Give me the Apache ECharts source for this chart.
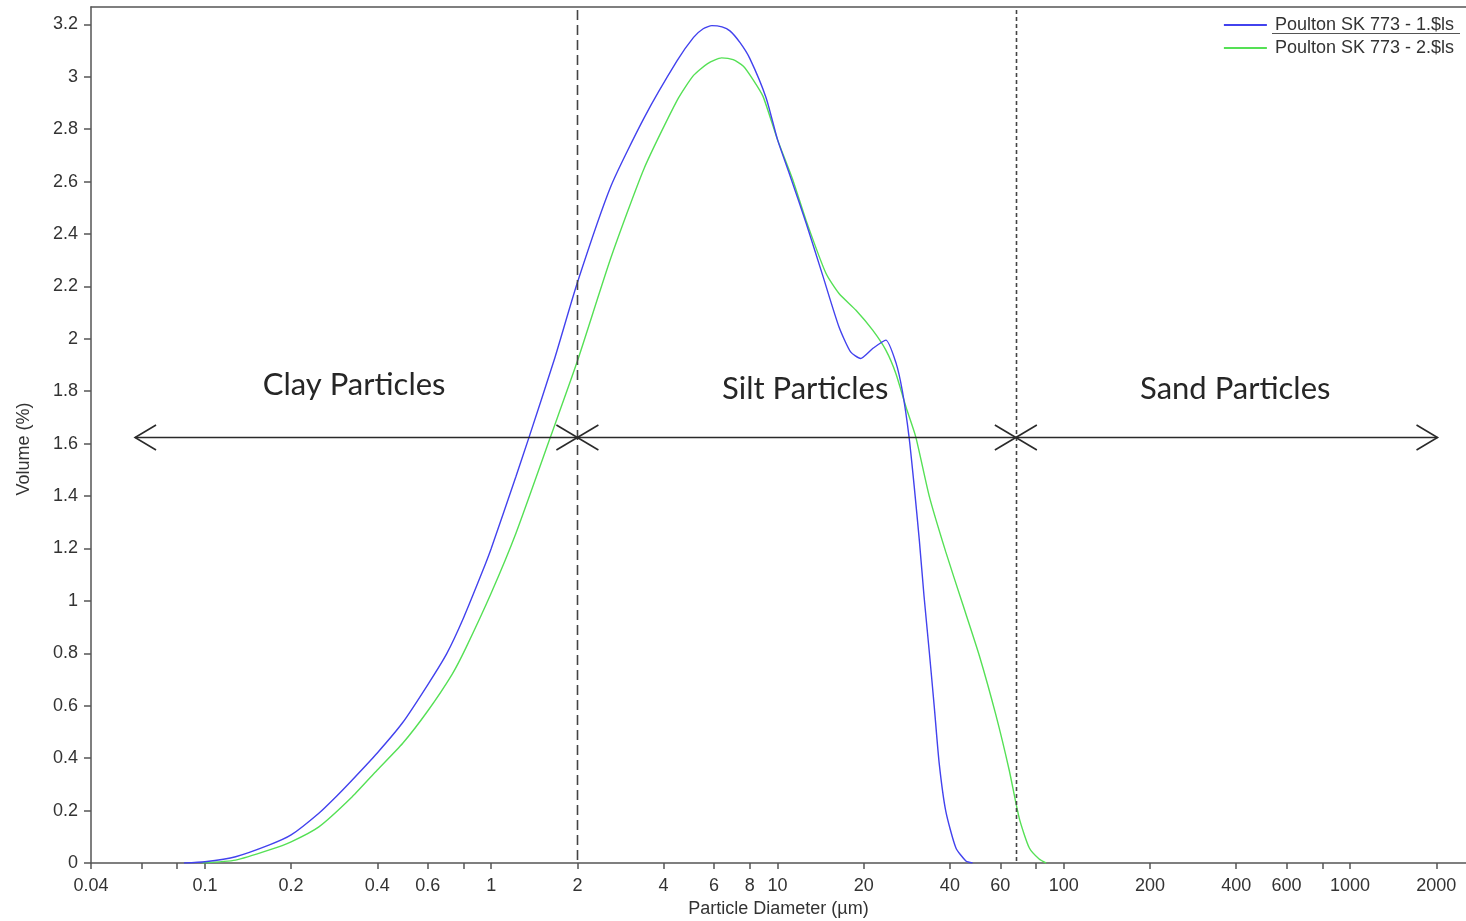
<!DOCTYPE html>
<html>
<head>
<meta charset="utf-8">
<script src="https://cdn.jsdelivr.net/npm/echarts@6/dist/echarts.min.js"></script>
<style>
html,body{margin:0;padding:0;background:#fff;}
#chart{width:1466px;height:921px;}
</style>
</head>
<body>
<div id="chart"></div>
<script>
// ---------- data ----------
const seriesNames = ['Poulton SK 773 - 1.$ls', 'Poulton SK 773 - 2.$ls'];

const sizes1 = [0.0845,0.1,0.128,0.168,0.2,0.25,0.287,0.327,0.4,0.49,0.6,0.7,0.8,0.93,1.0,1.22,1.356,1.66,2.0,2.62,3.42,4.46,5.09,5.5,5.9,6.4,6.82,7.4,8.0,9.12,10.0,11.0,12.6,14.4,16.4,18.0,19.5,21.5,23.9,25.9,27.3,28.8,30.0,31.3,32.5,33.9,35.3,36.7,38.7,42.0,45.5,48.0];
const vol1   = [0,0.005,0.024,0.069,0.107,0.19,0.253,0.317,0.42,0.535,0.68,0.80,0.935,1.11,1.20,1.475,1.625,1.92,2.215,2.583,2.843,3.061,3.15,3.183,3.195,3.19,3.175,3.13,3.07,2.92,2.76,2.63,2.44,2.24,2.045,1.95,1.925,1.963,1.995,1.91,1.80,1.626,1.441,1.229,1.017,0.805,0.593,0.381,0.198,0.057,0.008,0];

const sizes2 = [0.098,0.128,0.168,0.2,0.25,0.327,0.4,0.49,0.6,0.73,0.815,1.0,1.22,1.61,2.0,2.62,3.42,4.46,5.09,5.7,6.38,7.0,7.6,8.2,8.9,10.0,11.28,12.6,14.76,16.4,18.8,21.5,23.9,25.9,28.1,30.4,33.9,38.7,44.3,50.7,57.9,64.5,69.9,75.8,82.0,86.7];
const vol2   = [0,0.011,0.05,0.081,0.138,0.253,0.355,0.456,0.58,0.72,0.82,1.03,1.258,1.625,1.915,2.31,2.65,2.91,3.005,3.05,3.072,3.065,3.04,2.99,2.925,2.76,2.61,2.45,2.25,2.173,2.109,2.033,1.957,1.868,1.74,1.626,1.399,1.187,0.989,0.791,0.565,0.353,0.17,0.057,0.015,0];

const xTickLabels = [0.04,0.1,0.2,0.4,0.6,1,2,4,6,8,10,20,40,60,100,200,400,600,1000,2000];
const xTicks = [0.04,0.06,0.08,0.1,0.2,0.4,0.6,0.8,1,2,4,6,8,10,20,40,60,80,100,200,400,600,800,1000,2000];
const yTicks = [0,0.2,0.4,0.6,0.8,1,1.2,1.4,1.6,1.8,2,2.2,2.4,2.6,2.8,3,3.2];

const classNames = ['Clay Particles', 'Silt Particles', 'Sand Particles'];
const classBounds = [2, 68];          // µm: clay/silt, silt/sand
const arrowRange = [0.057, 2020];     // µm extent of the classification arrow
const arrowLevel = 1.625;             // volume % at which the arrow is drawn

// ---------- chart ----------
const X_MIN = 0.04, X_MAX = 2540, Y_MIN = 0, Y_MAX = 3.266;
const labelFont = 'Liberation Sans, Arial, sans-serif';
const fmt = v => String(+(+v).toPrecision(6));

const labelAnchors = [[0.332, 1.825], [12.5, 1.81], [397, 1.81]];

function renderAnnot(params, api) {
  const cs = params.coordSys;
  const top = cs.y, bottom = cs.y + cs.height;
  const yA = Math.round(api.coord([1, arrowLevel])[1]) + 0.5;
  const xL = api.coord([arrowRange[0], arrowLevel])[0];
  const xR = api.coord([arrowRange[1], arrowLevel])[0];
  const dark = '#2a2a2a';
  const ch = [];
  classBounds.forEach((b, i) => {
    const x = Math.round(api.coord([b, 1])[0]) + 0.5;
    ch.push({type: 'line', shape: {x1: x, y1: top + 3, x2: x, y2: bottom},
      style: {stroke: '#444', lineWidth: 1.6, lineDash: i === 0 ? [10, 5] : [4, 3]}});
  });
  ch.push({type: 'line', shape: {x1: xL, y1: yA, x2: xR, y2: yA}, style: {stroke: dark, lineWidth: 1.6}});
  ch.push({type: 'polyline', shape: {points: [[xL + 21, yA - 12.5], [xL, yA], [xL + 21, yA + 12.5]]},
    style: {stroke: dark, lineWidth: 1.6, fill: null}});
  ch.push({type: 'polyline', shape: {points: [[xR - 21, yA - 12.5], [xR, yA], [xR - 21, yA + 12.5]]},
    style: {stroke: dark, lineWidth: 1.6, fill: null}});
  classBounds.forEach(b => {
    const x = api.coord([b, arrowLevel])[0];
    ch.push({type: 'line', shape: {x1: x - 21, y1: yA - 12.5, x2: x + 21, y2: yA + 12.5}, style: {stroke: dark, lineWidth: 1.6}});
    ch.push({type: 'line', shape: {x1: x - 21, y1: yA + 12.5, x2: x + 21, y2: yA - 12.5}, style: {stroke: dark, lineWidth: 1.6}});
  });
  classNames.forEach((t, i) => {
    const p = api.coord(labelAnchors[i]);
    ch.push({type: 'text', style: {text: t, x: p[0], y: p[1], fill: '#262626',
      font: '31px Lato, "Open Sans", sans-serif', align: 'center', verticalAlign: 'middle'}});
  });
  return {type: 'group', children: ch};
}

const chart = echarts.init(document.getElementById('chart'), null, {renderer: 'canvas'});
chart.setOption({
  animation: false,
  backgroundColor: '#fff',
  grid: {left: 91, top: 7, right: 0, bottom: 58, containLabel: false, outerBoundsMode: 'none'},
  legend: {
    data: seriesNames, orient: 'vertical', right: 7, top: 11,
    icon: 'rect', itemWidth: 43, itemHeight: 2, itemGap: 5,
    textStyle: {fontSize: 18, color: '#333', fontFamily: labelFont, padding: [0, 0, 0, 3]}
  },
  graphic: [{type: 'line', shape: {x1: 1272, y1: 33.5, x2: 1460, y2: 33.5}, style: {stroke: '#555', lineWidth: 1}, z: 100}],
  xAxis: [{
    type: 'log', logBase: 10, min: X_MIN, max: X_MAX,
    name: 'Particle Diameter (µm)', nameLocation: 'middle', nameGap: 37,
    nameTextStyle: {fontSize: 18, color: '#333', fontFamily: labelFont},
    axisLine: {show: true, lineStyle: {color: '#555', width: 1.5}},
    axisTick: {show: true, customValues: xTicks, length: 6, lineStyle: {color: '#555', width: 1.5}},
    axisLabel: {show: true, customValues: xTickLabels, margin: 14, fontSize: 18, color: '#333', fontFamily: labelFont, formatter: fmt},
    splitLine: {show: false}, minorTick: {show: false}
  }, {
    type: 'log', logBase: 10, min: X_MIN, max: X_MAX, position: 'top',
    axisLine: {show: true, lineStyle: {color: '#555', width: 1.5}},
    axisTick: {show: false}, axisLabel: {show: false}, splitLine: {show: false}
  }],
  yAxis: {
    type: 'value', min: Y_MIN, max: Y_MAX,
    name: 'Volume (%)', nameLocation: 'middle', nameGap: 58,
    nameTextStyle: {fontSize: 18, color: '#333', fontFamily: labelFont, padding: [0, 28, 0, 0]},
    axisLine: {show: true, lineStyle: {color: '#555', width: 1.5}},
    axisTick: {show: true, customValues: yTicks, length: 7, lineStyle: {color: '#555', width: 1.5}},
    axisLabel: {show: true, customValues: yTicks, margin: 13, fontSize: 18, color: '#333', fontFamily: labelFont, formatter: fmt},
    splitLine: {show: false}
  },
  series: [{
    name: seriesNames[0], type: 'line', xAxisIndex: 0, symbol: 'none', smooth: 0.2,
    data: sizes1.map((s, i) => [s, vol1[i]]),
    lineStyle: {color: '#4242ee', width: 1.4}, itemStyle: {color: '#4242ee'}, z: 3
  }, {
    name: seriesNames[1], type: 'line', xAxisIndex: 0, symbol: 'none', smooth: 0.2,
    data: sizes2.map((s, i) => [s, vol2[i]]),
    lineStyle: {color: '#55e055', width: 1.4}, itemStyle: {color: '#55e055'}, z: 2
  }, {
    type: 'custom', xAxisIndex: 0, silent: true, renderItem: renderAnnot,
    data: [[classBounds[0], arrowLevel]], encode: {x: 0, y: 1}, z: 4, clip: false
  }]
});
</script>
</body>
</html>
